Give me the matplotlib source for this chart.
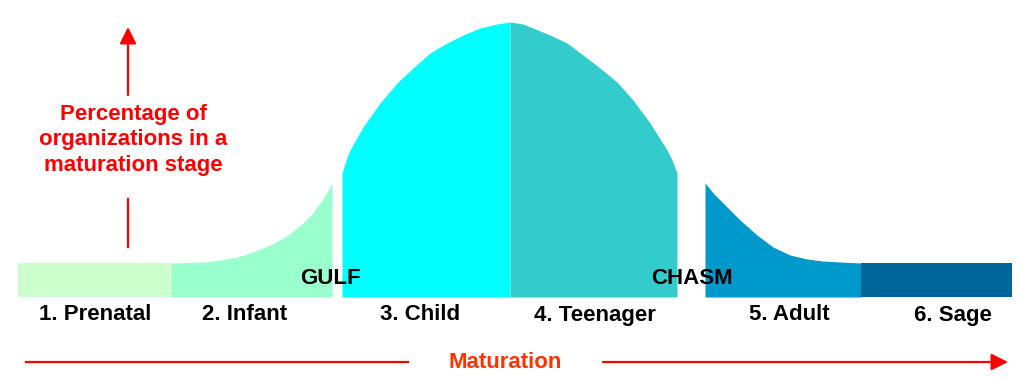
import numpy as np
from matplotlib import pyplot as plt

# stage names, x ranges along the maturation axis, and fill colours
stages = ['1. Prenatal', '2. Infant', '3. Child', '4. Teenager', '5. Adult', '6. Sage']
stage_start = [18, 171, 342, 510, 705, 861]
stage_end = [171, 332, 510, 677, 861, 1012]
stage_label_x = [95, 245, 420, 595, 789, 953]
colors = ['#CCFFCC', '#99FFCC', '#00FFFF', '#33CCCC', '#0099CC', '#006699']

# share of organizations (curve height above strip bottom)
curve_x = np.array([18, 171, 205, 220, 237, 253, 270, 287, 303, 312, 320, 326, 332,
                    342, 346, 350, 363, 380, 397, 413, 430, 447, 463, 480, 497, 510,
                    523, 533, 550, 567, 583, 600, 617, 633, 650, 667, 672, 677,
                    705, 714, 723, 740, 757, 773, 790, 807, 823, 840, 861, 1012])
curve_y = np.array([34, 34, 35, 37, 40, 45, 52, 61, 74, 83, 94, 103, 114,
                    124, 137, 147, 170, 194, 214, 229, 244, 254, 262, 269, 273, 275,
                    273, 269, 262, 254, 242, 229, 215, 197, 174, 147, 137, 124,
                    114, 103, 94, 77, 62, 50, 42, 38, 36, 35, 34, 34])
strip_top = 34

gaps = ['GULF', 'CHASM']
gap_x = [330, 692]

fig = plt.figure(figsize=(10.29, 3.79), dpi=100)
ax = fig.add_axes([0, 0, 1, 1])
ax.set_xlim(0, 1029)
ax.set_ylim(-82, 297)
ax.axis('off')

font = ['Liberation Sans', 'DejaVu Sans']

for name, lo, hi, c in zip(stages, stage_start, stage_end, colors):
    m = (curve_x >= lo) & (curve_x <= hi)
    ax.fill_between(curve_x[m], 0, curve_y[m], color=c, linewidth=0)

for name, lx in zip(stages, stage_label_x):
    ax.text(lx, -18, name, ha='center', va='center', fontsize=16,
            fontweight='bold', family=font, color='black')

for g, gx in zip(gaps, gap_x):
    ax.text(gx, strip_top / 2 + 2, g, ha='center', va='center', fontsize=16,
            fontweight='bold', family=font, color='black')

# vertical axis arrow with label
ax.annotate('', xy=(128, 270), xytext=(128, 202),
            arrowprops=dict(arrowstyle='-|>,head_length=1.0,head_width=0.5',
                            mutation_scale=10, color='red', lw=1.6,
                            shrinkA=0, shrinkB=0))
ax.plot([128, 128], [50, 98], color='red', lw=1.6)
ax.text(133, 157, 'Percentage of\norganizations in a\nmaturation stage',
        ha='center', va='center', fontsize=16, fontweight='bold', family=font,
        color='red', linespacing=1.3)

# horizontal maturation arrow
ax.plot([26, 408], [-65, -65], color='red', lw=1.6)
ax.annotate('', xy=(1008, -65), xytext=(603, -65),
            arrowprops=dict(arrowstyle='-|>,head_length=1.0,head_width=0.5',
                            mutation_scale=10, color='red', lw=1.6,
                            shrinkA=0, shrinkB=0))
ax.text(505, -66, 'Maturation', ha='center', va='center', fontsize=16,
        fontweight='bold', family=font, color='#FF3300')

plt.savefig('out.png', dpi=100)
